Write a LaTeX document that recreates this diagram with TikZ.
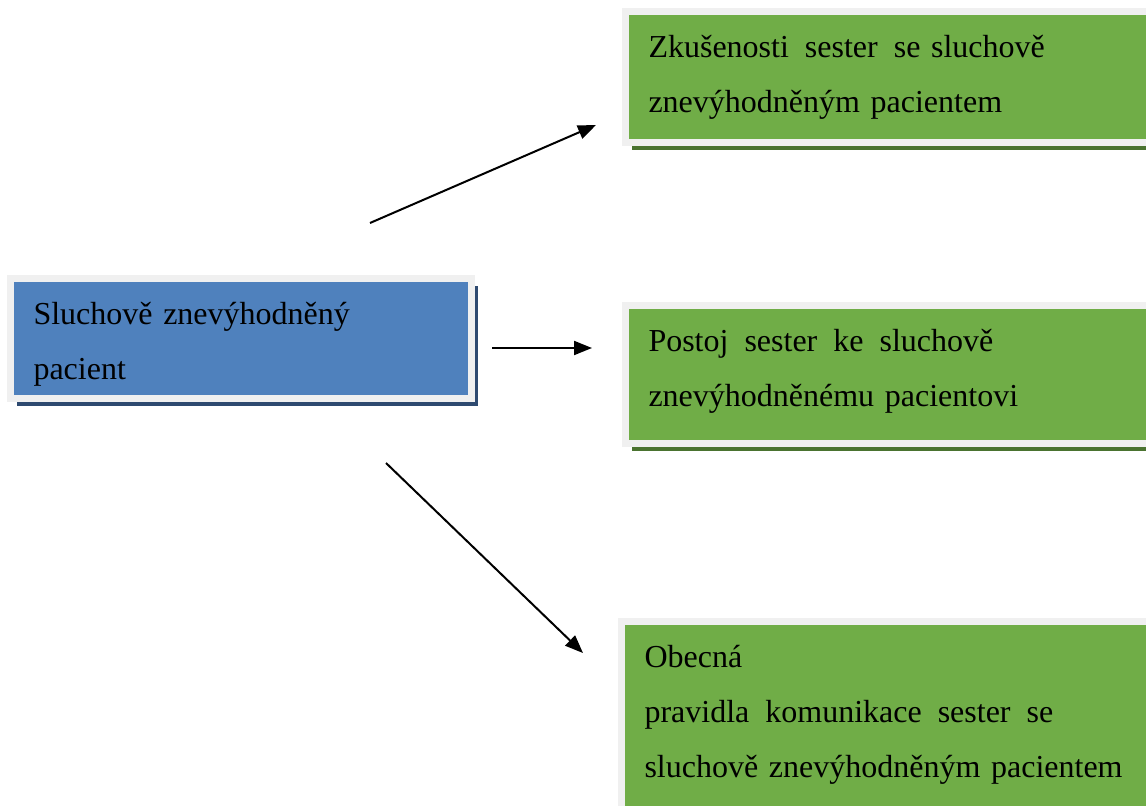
\documentclass[tikz,border=0pt]{standalone}
\usepackage{fontspec}
\setmainfont{Liberation Serif}
\usetikzlibrary{arrows.meta,shadows}

\definecolor{boxblue}{HTML}{4F81BD}
\definecolor{boxgreen}{HTML}{70AD47}
\definecolor{framegrey}{HTML}{F0F0F0}
\definecolor{shadeblue}{HTML}{2E4A70}
\definecolor{shadegreen}{HTML}{4A7330}
\newcommand{\wgap}{\hspace{8pt}}

\begin{document}
\begin{tikzpicture}[x=0.5pt, y=-0.5pt,
    box/.style = {draw=framegrey, line width=3.5pt, anchor=north west, align=left,
        inner xsep=11.5pt, inner ysep=3pt, text height=20pt,
        font=\fontsize{16}{27.5}\selectfont},
    topic/.style = {box, fill=boxgreen, text width=250pt,
        drop shadow={shadow xshift=3pt, shadow yshift=-3.75pt, fill=shadegreen, opacity=1}},
    patient/.style = {box, fill=boxblue, text width=207.5pt,
        drop shadow={shadow xshift=3pt, shadow yshift=-3.75pt, fill=shadeblue, opacity=1}},
    link/.style = {line width=1pt, -{Triangle[length=9pt,width=7pt]}}]
        \clip (0,0) rectangle (1146,806);
        \node[patient, text depth=34pt] (pat) at (7,275) {Sluchově znevýhodněný\\pacient};
        \node[topic, text depth=39.5pt] (exp) at (622,8) {Zkušenosti\wgap sester\wgap se sluchově\\znevýhodněným pacientem};
        \node[topic, text depth=43pt] (att) at (622,302) {Postoj\wgap sester\wgap ke\wgap sluchově\\znevýhodněnému pacientovi};
        \node[topic, text depth=90pt] (rul) at (618,618) {Obecná\\pravidla\wgap komunikace\wgap sester\wgap se\\sluchově znevýhodněným pacientem};
        %% Arrows
        \coordinate (a1) at (370,223);
        \coordinate (b1) at (596,125);
        \coordinate (a2) at (492,348);
        \coordinate (b2) at (592,348);
        \coordinate (a3) at (386,463);
        \coordinate (b3) at (583,653);
        \draw[link] (a1) -- (b1);
        \draw[link] (a2) -- (b2);
        \draw[link] (a3) -- (b3);
    \end{tikzpicture}
\end{document}
